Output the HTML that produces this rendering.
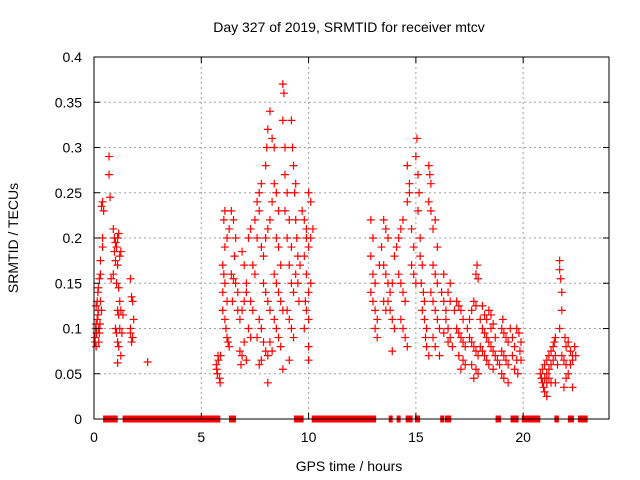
<!DOCTYPE html>
<html><head><meta charset="utf-8"><style>
html,body{margin:0;padding:0;background:#fff;}
svg{display:block;font-family:"Liberation Sans","DejaVu Sans",sans-serif;}
</style></head><body>
<svg id="chart" width="640" height="480" viewBox="0 0 640 480">
<rect width="640" height="480" fill="#fff"/>
<text x="349" y="32" font-size="14" text-anchor="middle">Day 327 of 2019, SRMTID for receiver mtcv</text>
<text x="349" y="471" font-size="14" text-anchor="middle">GPS time / hours</text>
<text x="18" y="238" font-size="14" text-anchor="middle" transform="rotate(-90 18 238)">SRMTID / TECUs</text>
<g id="grid"></g>
<g id="zeros"></g>
<g id="points"></g>
<g id="axes"></g>
</svg>
<script>
const xTicks=[0,5,10,15,20];
const yTicks=[0,0.05,0.1,0.15,0.2,0.25,0.3,0.35,0.4];
const yTickLabels=["0","0.05","0.1","0.15","0.2","0.25","0.3","0.35","0.4"];
const zeroStart=[0.47,1.38,1.8,6.34,9.37,10.19,13.78,14.15,14.57,15.0,16.18,16.4,18.76,19.46,19.98,21.5,22.13,22.6];
const zeroEnd=[1.06,1.76,5.84,6.57,9.72,13.1,13.85,14.22,14.8,15.15,16.25,16.6,18.92,19.74,20.75,21.62,22.32,22.96];
const times=[0.05,0.05,0.08,0.1,0.12,0.15,0.1,0.15,0.18,0.2,0.22,0.25,0.1,0.2,0.25,0.3,0.3,0.35,0.3,0.4,0.35,0.4,0.45,0.18,0.28,0.22,0.4,0.7,0.7,0.75,0.9,0.95,1.0,1.05,1.1,1.15,0.95,1.0,1.1,1.2,1.25,0.8,0.9,1.05,1.15,1.2,1.1,1.15,1.25,1.0,1.05,1.1,1.15,1.2,1.3,1.35,1.25,1.1,1.7,1.75,1.8,1.7,1.75,1.8,1.7,1.85,2.5,
5.7,5.72,5.75,5.78,5.8,5.85,5.88,5.9,6.0,6.05,6.1,6.2,6.0,6.1,6.15,6.2,6.25,6.3,6.0,6.1,6.2,6.3,6.05,6.1,6.4,6.5,6.6,6.55,6.4,6.5,6.6,6.7,6.45,6.7,6.8,6.9,7.0,7.1,7.0,6.9,7.2,7.3,7.1,7.3,7.4,7.2,7.3,7.0,6.8,6.9,7.1,6.85,7.4,7.5,7.5,7.6,7.7,7.8,7.7,7.6,7.8,7.9,8.0,8.1,8.2,7.9,8.0,8.1,8.2,7.7,7.8,7.6,7.9,8.0,8.1,7.8,7.7,8.1,8.0,8.05,8.1,8.2,8.3,8.4,8.4,8.5,8.6,8.3,8.5,8.6,8.7,8.4,8.5,8.6,8.7,8.8,8.4,8.5,8.6,8.7,8.3,8.2,8.8,8.85,8.8,8.9,8.9,9.0,8.9,9.1,9.0,9.2,9.1,9.2,9.3,9.0,9.1,9.2,9.3,9.1,8.8,9.2,9.25,9.3,9.4,9.35,9.4,9.45,9.5,9.4,9.5,9.6,9.55,9.7,9.8,9.9,10.0,10.1,9.9,10.0,10.1,10.2,9.8,9.9,10.0,9.85,9.9,10.0,9.8,10.0,10.0,10.1,
12.9,13.0,12.9,13.0,13.1,12.9,13.0,13.1,13.2,13.1,13.2,13.3,13.4,13.5,13.6,13.7,13.5,13.6,13.7,13.8,13.9,13.5,13.6,13.7,13.8,13.9,14.0,13.9,14.0,14.1,14.2,14.3,14.4,14.2,14.3,14.4,14.5,14.3,14.4,14.5,14.6,14.6,14.7,14.6,14.7,14.8,14.9,14.8,14.9,15.0,15.0,15.05,15.1,15.15,15.1,15.2,15.2,15.3,15.25,15.35,15.4,15.3,15.4,15.5,15.45,15.5,15.6,15.6,15.65,15.7,15.6,15.7,15.8,15.9,16.0,15.8,15.9,16.0,15.7,15.8,15.9,16.0,16.1,15.8,15.9,16.1,16.3,16.2,16.3,16.4,16.5,16.6,16.4,16.5,16.6,16.7,16.3,16.5,16.6,
16.8,16.9,17.0,17.1,17.2,16.9,17.0,17.1,17.2,17.3,17.0,17.2,17.3,17.1,17.4,17.5,17.6,17.7,17.8,17.5,17.6,17.7,17.8,17.9,17.6,17.8,17.9,17.7,17.8,17.85,17.9,18.0,18.1,18.2,18.3,18.4,18.0,18.1,18.2,18.3,18.4,18.5,18.6,18.7,18.5,18.6,18.7,18.8,18.9,18.6,18.3,18.4,18.5,18.1,18.2,19.0,19.05,19.1,19.2,19.3,19.0,19.1,19.2,19.3,19.0,19.1,19.3,19.4,19.5,19.6,19.5,19.7,19.6,19.75,19.8,19.9,19.85,19.9,19.7,
20.8,20.85,20.9,20.95,21.0,20.9,21.0,21.1,21.2,21.1,21.2,21.3,21.0,21.1,21.2,21.3,21.3,21.4,21.45,21.5,21.4,21.5,21.6,21.1,21.5,21.7,21.7,21.75,21.8,21.8,21.7,21.8,21.9,22.0,22.1,22.2,22.3,22.4,22.45,22.0,22.1,22.2,22.3,22.0,21.9,22.3,21.95];
const values=[.085,.09,.1,.105,.095,.11,.125,.13,.14,.12,.1,.095,.08,.145,.155,.16,.13,.12,.175,.19,.235,.24,.23,.115,.105,.085,.2,.29,.27,.245,.21,.2,.195,.19,.2,.205,.185,.175,.17,.18,.185,.155,.16,.15,.145,.13,.12,.115,.12,.1,.095,.085,.08,.1,.095,.115,.07,.062,.155,.135,.13,.1,.085,.09,.095,.11,.063,
.06,.055,.05,.07,.065,.045,.04,.07,.14,.16,.15,.13,.12,.11,.1,.09,.085,.08,.17,.19,.2,.21,.22,.23,.23,.22,.2,.18,.16,.155,.15,.14,.13,.12,.11,.12,.13,.14,.17,.185,.2,.21,.15,.13,.12,.1,.09,.085,.075,.07,.065,.06,.17,.16,.22,.24,.25,.26,.23,.2,.19,.18,.2,.21,.22,.15,.14,.13,.12,.11,.1,.09,.085,.075,.07,.065,.06,.04,.28,.3,.32,.34,.31,.3,.26,.25,.23,.24,.2,.19,.17,.16,.15,.14,.13,.12,.11,.1,.09,.08,.075,.085,.37,.36,.33,.3,.27,.25,.23,.22,.2,.19,.17,.15,.14,.12,.11,.1,.09,.065,.055,.33,.3,.28,.26,.25,.22,.2,.18,.16,.15,.17,.13,.23,.22,.21,.25,.24,.2,.19,.2,.21,.18,.16,.14,.13,.12,.11,.1,.08,.065,.15,
.22,.2,.18,.16,.15,.14,.13,.12,.11,.1,.09,.17,.19,.22,.21,.2,.17,.16,.15,.14,.15,.13,.12,.13,.12,.11,.1,.075,.18,.19,.2,.21,.22,.16,.15,.14,.13,.11,.1,.09,.08,.24,.25,.28,.26,.21,.19,.17,.16,.15,.29,.31,.27,.25,.23,.2,.18,.17,.15,.14,.13,.12,.11,.1,.09,.08,.07,.28,.27,.26,.24,.23,.21,.22,.19,.17,.16,.15,.14,.13,.12,.11,.1,.09,.08,.07,.16,.14,.13,.12,.14,.15,.11,.1,.09,.08,.095,.085,.13,
.12,.13,.125,.12,.11,.1,.095,.09,.085,.08,.07,.065,.06,.055,.1,.11,.12,.13,.125,.09,.085,.08,.075,.07,.06,.055,.05,.045,.16,.17,.155,.11,.1,.095,.09,.085,.08,.075,.07,.065,.06,.1,.105,.09,.08,.075,.07,.065,.06,.055,.11,.12,.115,.125,.115,.1,.11,.095,.09,.085,.075,.07,.065,.06,.05,.045,.04,.1,.09,.08,.07,.065,.055,.05,.095,.085,.075,.065,.1,
.05,.045,.04,.035,.03,.055,.06,.065,.07,.05,.045,.04,.045,.04,.055,.06,.075,.08,.085,.09,.065,.07,.06,.025,.04,.175,.165,.155,.14,.12,.1,.07,.065,.08,.085,.075,.07,.08,.07,.06,.05,.06,.065,.045,.035,.035,.09];

const L=94,R=609,T=57,B=419,XMAX=24,YMAX=0.4;
const xs=t=>L+(R-L)*t/XMAX;
const ys=v=>B-(B-T)*v/YMAX;
const NS="http://www.w3.org/2000/svg";
function mk(tag,parent,attrs){const e=document.createElementNS(NS,tag);for(const k in attrs)e.setAttribute(k,attrs[k]);parent.appendChild(e);return e;}
const grid=document.getElementById('grid'),axes=document.getElementById('axes'),pts=document.getElementById('points'),zer=document.getElementById('zeros');

xTicks.forEach(t=>{
  const x=xs(t);
  if(t>0){const g=mk('line',grid,{x1:x,x2:x,y1:T,y2:B,stroke:'#a0a0a0','stroke-dasharray':'2,3','stroke-width':1});
  
  }
  mk('line',axes,{x1:x,x2:x,y1:B,y2:B-6,stroke:'#000'});
  mk('line',axes,{x1:x,x2:x,y1:T,y2:T+6,stroke:'#000'});
  const lb=mk('text',axes,{x:x,y:442,'font-size':14,'text-anchor':'middle'});
  lb.textContent=String(t);
  
  
});
yTicks.forEach((v,i)=>{
  const y=ys(v);
  if(v>0&&v<YMAX){const g=mk('line',grid,{x1:L,x2:R,y1:y,y2:y,stroke:'#a0a0a0','stroke-dasharray':'2,3','stroke-width':1});
  
  }
  mk('line',axes,{x1:L,x2:L+6,y1:y,y2:y,stroke:'#000'});
  mk('line',axes,{x1:R,x2:R-6,y1:y,y2:y,stroke:'#000'});
  const lb=mk('text',axes,{x:82,y:y+5,'font-size':14,'text-anchor':'end'});
  lb.textContent=yTickLabels[i];
  
  
});
const frame=mk('rect',axes,{x:L,y:T,width:R-L,height:B-T,fill:'none',stroke:'#000','stroke-width':1});



zeroStart.forEach((s,i)=>{
  const x1=xs(s),x2=xs(zeroEnd[i]);
  const r=mk('rect',zer,{x:x1-1,y:ys(0)-3.5,width:Math.max(2,x2-x1)+2,height:7,fill:'#ff0000'});
  
  
});
times.forEach((t,i)=>{
  const x=xs(t),y=ys(values[i]);
  const p=mk('path',pts,{d:`M${x-4},${y}H${x+4}M${x},${y-4}V${y+4}`,stroke:'#ff0000','stroke-width':1.2,fill:'none'});
  
  
});
</script>
</body></html>
